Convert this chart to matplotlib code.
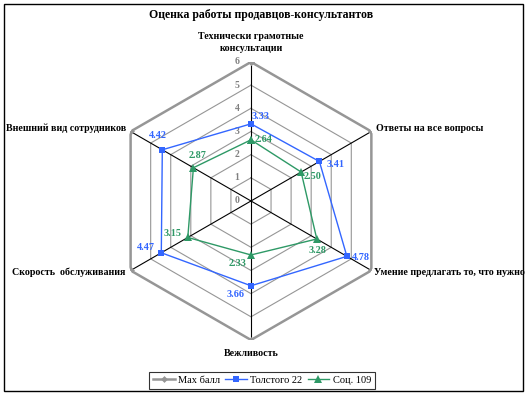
import numpy as np
import matplotlib.pyplot as plt
from matplotlib.patches import Rectangle

plt.rcParams['font.family'] = ['Liberation Serif', 'DejaVu Serif']
plt.rcParams['font.weight'] = 'bold'

title = 'Оценка работы продавцов-консультантов'
categories = ['Технически грамотные\nконсультации', 'Ответы на все вопросы',
              'Умение предлагать то, что нужно', 'Вежливость',
              'Скорость  обслуживания', 'Внешний вид сотрудников']
max_ball = [6, 6, 6, 6, 6, 6]
tolstogo = [3.33, 3.41, 4.78, 3.66, 4.47, 4.42]
soc = [2.64, 2.50, 3.28, 2.33, 3.15, 2.87]
radial_ticks = [0, 1, 2, 3, 4, 5, 6]

grey = '#969696'
blue = '#3366ff'
green = '#2e9966'

n = len(categories)
theta = np.arange(n) * 2 * np.pi / n
theta_c = np.append(theta, theta[0])


def closed(v):
    return np.append(v, v[0])


fig = plt.figure(figsize=(5.28, 3.97), dpi=100)
ax = fig.add_axes([0.2121, 0.1436, 0.5265, 0.7003], projection='polar')
ax.set_theta_zero_location('N')
ax.set_theta_direction(-1)
ax.set_ylim(0, 6)
ax.grid(False)
ax.set_xticks([])
ax.set_yticks([])
ax.spines['polar'].set_visible(False)
ax.patch.set_visible(False)

# hexagonal gridlines
for r in radial_ticks[1:-1]:
    ax.plot(theta_c, [r] * (n + 1), color=grey, lw=0.8, zorder=1)
# axis spokes
for t in theta:
    ax.plot([t, t], [0, 6], color='black', lw=0.8, zorder=2)
# radial tick labels
for r in radial_ticks:
    ax.annotate(str(r), (0, r), xytext=(-10, 0), textcoords='offset points',
                ha='center', va='center', fontsize=7, color='#808080')

l1, = ax.plot(theta_c, closed(max_ball), color=grey, lw=1.8, marker='D',
              markersize=3.5, mew=0, zorder=3, label='Max балл')
l2, = ax.plot(theta_c, closed(tolstogo), color=blue, lw=1.0, marker='s',
              markersize=4.8, mew=0, zorder=4, label='Толстого 22')
l3, = ax.plot(theta_c, closed(soc), color=green, lw=1.0, marker='^',
              markersize=5.5, mew=0, zorder=4, label='Соц. 109')

# label offsets (points) for data labels
blue_off = [(7.2, 5), (11.5, -2.5), (10, -1), (-10.8, -6.5), (-10.8, 4), (-2.9, 10)]
green_off = [(9.4, 0), (8, -2.9), (0.7, -8.5), (-9.4, -5.8), (-10.8, 2.5), (2.9, 8.8)]
for t, v, off in zip(theta, tolstogo, blue_off):
    ax.annotate(f'{v:.2f}', (t, v), xytext=off, textcoords='offset points',
                ha='center', va='center', fontsize=7.3, color=blue)
for t, v, off in zip(theta, soc, green_off):
    ax.annotate(f'{v:.2f}', (t, v), xytext=off, textcoords='offset points',
                ha='center', va='center', fontsize=7.3, color=green)

# category labels
cat_pos = [((0, 6), (0, 14), 'center'),
           ((theta[1], 6), (3, 2), 'left'),
           ((theta[2], 6), (2, -1.5), 'left'),
           ((theta[3], 6), (0, -10), 'center'),
           ((theta[4], 6), (-4, -1.5), 'right'),
           ((theta[5], 6), (-3, 2), 'right')]
for lab, (xy, off, ha) in zip(categories, cat_pos):
    ax.annotate(lab, xy, xytext=off, textcoords='offset points', ha=ha,
                va='center', fontsize=7.2, color='black', linespacing=1.3)

fig.text(0.494, 0.962, title, ha='center', va='center', fontsize=8.5,
         weight='bold')

leg = fig.legend(handles=[l1, l2, l3], loc='center', ncol=3,
                 bbox_to_anchor=(0.496, 0.0416), frameon=True,
                 prop={'size': 7.5, 'weight': 'normal'},
                 fancybox=False, handlelength=2.1, handletextpad=0.3,
                 columnspacing=0.5, borderpad=0.35, borderaxespad=0)
leg.get_frame().set_edgecolor('black')
leg.get_frame().set_linewidth(0.8)

fig.patches.append(Rectangle((4 / 528, 6 / 397), 519 / 528, 387 / 397,
                             transform=fig.transFigure, fill=False,
                             edgecolor='black', lw=1.0))

fig.savefig('out.png', dpi=100)
